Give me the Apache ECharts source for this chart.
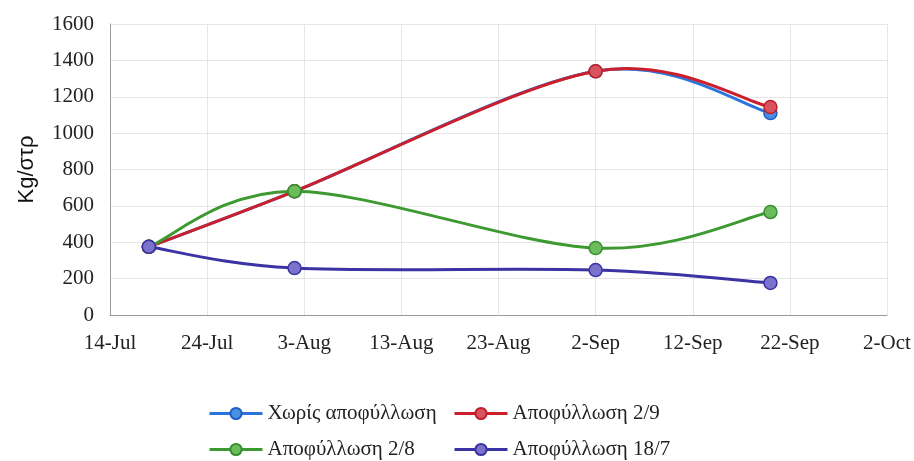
<!DOCTYPE html>
<html>
<head>
<meta charset="utf-8">
<script src="https://cdn.jsdelivr.net/npm/echarts@6/dist/echarts.min.js"></script>
<style>
html,body{margin:0;padding:0;background:#fff;}
#chart{width:914px;height:461px;}
</style>
</head>
<body>
<div id="chart"></div>
<script>
// ---- data ----
const axisStart = '2019-07-14';
const axisEnd = '2019-10-02';
const tickStepDays = 10;
const sampleDates = ['2019-07-18', '2019-08-02', '2019-09-02', '2019-09-20'];
const seriesNames = ['Χωρίς αποφύλλωση', 'Αποφύλλωση 2/9', 'Αποφύλλωση 2/8', 'Αποφύλλωση 18/7'];
const noDefoliation = [375, 680, 1340, 1110];
const defol_2_9 = [375, 680, 1340, 1143];
const defol_2_8 = [375, 681, 368, 566];
const defol_18_7 = [375, 258, 247, 176];
const yTicks = [0, 200, 400, 600, 800, 1000, 1200, 1400, 1600];
const yTitle = 'Kg/στρ';
const monthNames = ['Jan','Feb','Mar','Apr','May','Jun','Jul','Aug','Sep','Oct','Nov','Dec'];

const DAY = 86400000;
const t0 = Date.parse(axisStart + 'T00:00:00Z');
const dayOf = s => Math.round((Date.parse(s + 'T00:00:00Z') - t0) / DAY);
const xMax = dayOf(axisEnd);
const fmt = d => { const dt = new Date(t0 + d * DAY); return dt.getUTCDate() + '-' + monthNames[dt.getUTCMonth()]; };

const styles = [
  {line: '#2a74dc', fill: '#4a90e2', border: '#1f5fc4'},
  {line: '#cc1f2c', fill: '#d9535e', border: '#c01e2a'},
  {line: '#3c9a30', fill: '#6cbc5c', border: '#35902c'},
  {line: '#3b33a3', fill: '#7b72cc', border: '#3b33a3'}
];
const values = [noDefoliation, defol_2_9, defol_2_8, defol_18_7];

// Excel-like smoothed curve (Catmull-Rom -> cubic Bezier) drawn through the axes' scales
function curveSeries(vals, i) {
  const pts = vals.map((v, j) => [dayOf(sampleDates[j]), v]);
  return {
    name: seriesNames[i] + ' (curve)',
    type: 'custom',
    data: pts,
    z: 2 + 2 * i,
    silent: true,
    renderItem: function (params, api) {
      const k = params.dataIndex;
      if (k >= pts.length - 1) return null;
      const P = pts.map(p => api.coord(p));
      const p0 = P[Math.max(k - 1, 0)], p1 = P[k], p2 = P[k + 1], p3 = P[Math.min(k + 2, P.length - 1)];
      return {
        type: 'bezierCurve',
        shape: {
          x1: p1[0], y1: p1[1], x2: p2[0], y2: p2[1],
          cpx1: p1[0] + (p2[0] - p0[0]) / 6, cpy1: p1[1] + (p2[1] - p0[1]) / 6,
          cpx2: p2[0] - (p3[0] - p1[0]) / 6, cpy2: p2[1] - (p3[1] - p1[1]) / 6
        },
        style: {stroke: styles[i].line, lineWidth: 3, fill: null, lineCap: 'round'}
      };
    }
  };
}

const series = [];
values.forEach((vals, i) => {
  series.push(curveSeries(vals, i));
  series.push({
    name: seriesNames[i],
    type: 'line',
    data: vals.map((v, j) => [dayOf(sampleDates[j]), v]),
    symbol: 'circle',
    symbolSize: 13,
    lineStyle: {color: styles[i].line, width: 3, opacity: 0},
    itemStyle: {color: styles[i].fill, borderColor: styles[i].border, borderWidth: 1.5},
    z: 3 + 2 * i
  });
});

const serif = '"Liberation Serif", "DejaVu Serif", serif';
const legendPos = [[203, 398], [448, 398], [203, 434], [448, 434]];
const legendOrder = [0, 1, 2, 3];
const legends = legendOrder.map((si, k) => ({
  left: legendPos[k][0], top: legendPos[k][1],
  itemWidth: 53, itemHeight: 14,
  data: [{name: seriesNames[si], lineStyle: {color: styles[si].line, width: 3, opacity: 1}}],
  textStyle: {fontFamily: serif, fontSize: 21, color: '#222'}
}));

const chart = echarts.init(document.getElementById('chart'), null, {renderer: 'canvas'});
chart.setOption({
  animation: false,
  backgroundColor: '#fff',
  grid: {left: 110, right: 27, top: 24, bottom: 146},
  xAxis: {
    type: 'value', min: 0, max: xMax, interval: tickStepDays,
    axisLine: {show: true, lineStyle: {color: '#9a9a9a', width: 1}},
    axisTick: {show: false},
    splitLine: {show: true, lineStyle: {color: '#e6e6e6'}},
    axisLabel: {formatter: v => fmt(v), fontFamily: serif, fontSize: 21, color: '#222', margin: 18}
  },
  yAxis: {
    type: 'value', min: yTicks[0], max: yTicks[yTicks.length - 1], interval: yTicks[1] - yTicks[0],
    name: yTitle, nameLocation: 'middle', nameGap: 72, nameRotate: 90,
    nameTextStyle: {fontFamily: '"Liberation Sans", Arial, sans-serif', fontSize: 22, color: '#111'},
    axisLine: {show: true, lineStyle: {color: '#9a9a9a', width: 1}},
    axisTick: {show: false},
    splitLine: {show: true, lineStyle: {color: '#e6e6e6'}},
    axisLabel: {formatter: v => String(v), fontFamily: serif, fontSize: 21, color: '#222', margin: 16}
  },
  legend: legends,
  series: series
});
</script>
</body>
</html>
